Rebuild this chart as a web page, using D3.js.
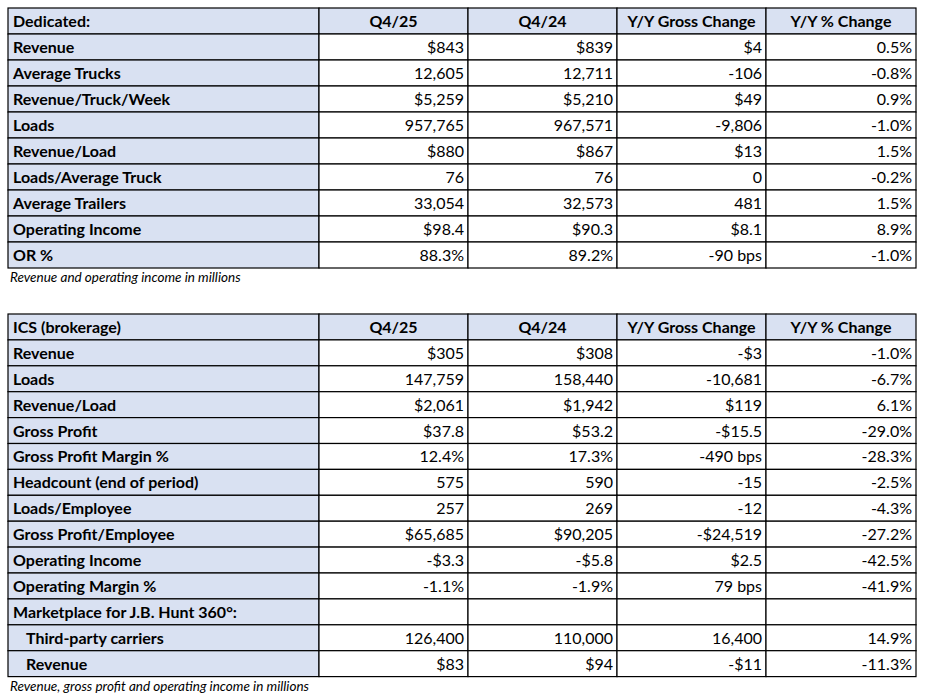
<!DOCTYPE html>
<html><head><meta charset="utf-8">
<script src="https://cdn.jsdelivr.net/npm/d3@7"></script>
<style>body{margin:0;background:#fff}</style>
</head><body>
<svg id="chart" width="927" height="697"></svg>
<script>
// table 1 data
const dedHeader = ['Dedicated:', 'Q4/25', 'Q4/24', 'Y/Y Gross Change', 'Y/Y % Change'];
const dedRows = [
  ['Revenue', '$843', '$839', '$4', '0.5%'],
  ['Average Trucks', '12,605', '12,711', '-106', '-0.8%'],
  ['Revenue/Truck/Week', '$5,259', '$5,210', '$49', '0.9%'],
  ['Loads', '957,765', '967,571', '-9,806', '-1.0%'],
  ['Revenue/Load', '$880', '$867', '$13', '1.5%'],
  ['Loads/Average Truck', '76', '76', '0', '-0.2%'],
  ['Average Trailers', '33,054', '32,573', '481', '1.5%'],
  ['Operating Income', '$98.4', '$90.3', '$8.1', '8.9%'],
  ['OR %', '88.3%', '89.2%', '-90 bps', '-1.0%']
];
const dedNote = 'Revenue and operating income in millions';

// table 2 data
const icsHeader = ['ICS (brokerage)', 'Q4/25', 'Q4/24', 'Y/Y Gross Change', 'Y/Y % Change'];
const icsRows = [
  ['Revenue', '$305', '$308', '-$3', '-1.0%'],
  ['Loads', '147,759', '158,440', '-10,681', '-6.7%'],
  ['Revenue/Load', '$2,061', '$1,942', '$119', '6.1%'],
  ['Gross Profit', '$37.8', '$53.2', '-$15.5', '-29.0%'],
  ['Gross Profit Margin %', '12.4%', '17.3%', '-490 bps', '-28.3%'],
  ['Headcount (end of period)', '575', '590', '-15', '-2.5%'],
  ['Loads/Employee', '257', '269', '-12', '-4.3%'],
  ['Gross Profit/Employee', '$65,685', '$90,205', '-$24,519', '-27.2%'],
  ['Operating Income', '-$3.3', '-$5.8', '$2.5', '-42.5%'],
  ['Operating Margin %', '-1.1%', '-1.9%', '79 bps', '-41.9%'],
  ['Marketplace for J.B. Hunt 360°:', '', '', '', ''],
  ['   Third-party carriers', '126,400', '110,000', '16,400', '14.9%'],
  ['   Revenue', '$83', '$94', '-$11', '-11.3%']
];
const icsNote = 'Revenue, gross profit and operating income in millions';

const colEdges = [8, 319, 468, 617, 766, 916];
const BLUE = '#D9E1F2';
const FONT = 'Lato, "Open Sans", sans-serif';
const svg = d3.select('#chart');

function drawTable(top, rowH, header, rows, note) {
  const all = [header].concat(rows);
  const y = d3.scaleBand().domain(d3.range(all.length)).range([top, top + rowH * all.length]);
  const g = svg.append('g');
  all.forEach((row, ri) => {
    row.forEach((txt, ci) => {
      const x0 = colEdges[ci], x1 = colEdges[ci + 1];
      g.append('rect').attr('x', x0).attr('y', y(ri)).attr('width', x1 - x0).attr('height', y.bandwidth())
        .attr('fill', (ri === 0 || ci === 0) ? BLUE : '#fff')
        .attr('stroke', '#000').attr('stroke-width', 1.2);
      const indent = txt.startsWith('   ');
      const t = g.append('text')
        .attr('y', y(ri) + y.bandwidth() / 2 + 6)
        .attr('font-family', FONT).attr('font-size', 16).attr('fill', '#000')
        .text(txt.trim());
      if (ci === 0) t.attr('x', x0 + (indent ? 18 : 5)).attr('font-weight', 'bold');
      else if (ri === 0) t.attr('x', (x0 + x1) / 2).attr('text-anchor', 'middle').attr('font-weight', 'bold');
      else t.attr('x', x1 - 4).attr('text-anchor', 'end');
    });
  });
  svg.append('text').attr('x', 10).attr('y', top + rowH * all.length + 14)
    .attr('font-family', FONT).attr('font-size', 13.5).attr('font-style', 'italic').text(note);
}

drawTable(8, 26, dedHeader, dedRows, dedNote);
drawTable(314, 25.9, icsHeader, icsRows, icsNote);
</script>
</body></html>
